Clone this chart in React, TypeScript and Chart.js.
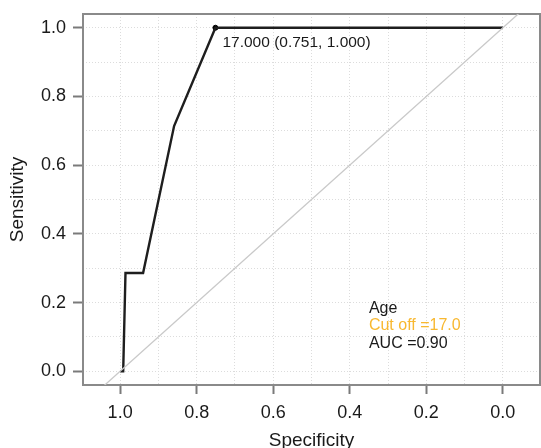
import React, { useEffect, useRef } from "react";
import { Chart, registerables } from "chart.js";

Chart.register(...registerables);

// ROC curve (specificity reversed on x)
const SPECIFICITY = [1.0, 0.992, 0.986, 0.94, 0.859, 0.751, 0.0];
const SENSITIVITY = [0.0, 0.0, 0.286, 0.286, 0.714, 1.0, 1.0];

// Chance diagonal (clipped to plot area)
const DIAG_X = [1.2, -0.2];
const DIAG_Y = [-0.2, 1.2];

// Optimal cut-off point
const CUT_SPEC = 0.751;
const CUT_SENS = 1.0;
const CUT_LABEL = "17.000 (0.751, 1.000)";

const GRID_VALUES = [0, 0.1, 0.2, 0.3, 0.4, 0.5, 0.6, 0.7, 0.8, 0.9, 1.0];
const LABELED_VALUES = [0, 0.2, 0.4, 0.6, 0.8, 1.0];
const TICK_LABELS = ["0.0", "0.2", "0.4", "0.6", "0.8", "1.0"];

const LEGEND_LINES = ["Age", "Cut off =17.0", "AUC =0.90"];
const LEGEND_COLORS = ["#1a1a1a", "#F8B830", "#1a1a1a"];
const LEGEND_ANCHOR = { x: 0.35, y: 0.183 };

const X_MIN = -0.097;
const X_MAX = 1.097;
const Y_MIN = -0.04;
const Y_MAX = 1.04;

const FONT = "'Liberation Sans', Arial, Helvetica, sans-serif";

const labelFor = (v: number) => {
  const i = LABELED_VALUES.findIndex((l) => Math.abs(l - v) < 1e-6);
  return i >= 0 ? TICK_LABELS[i] : "";
};

export default function App() {
  const ref = useRef<HTMLCanvasElement | null>(null);

  useEffect(() => {
    if (!ref.current) return;

    const decor = {
      id: "decor",
      beforeDatasetsDraw(chart: any) {
        const { ctx, chartArea } = chart;
        ctx.save();
        ctx.strokeStyle = "#8a8a8a";
        ctx.lineWidth = 2;
        ctx.strokeRect(
          chartArea.left,
          chartArea.top,
          chartArea.right - chartArea.left,
          chartArea.bottom - chartArea.top
        );
        ctx.restore();
      },
      afterDatasetsDraw(chart: any) {
        const { ctx, scales } = chart;
        const xs = scales.x;
        const ys = scales.y;
        ctx.save();
        ctx.textBaseline = "middle";
        ctx.textAlign = "left";
        ctx.fillStyle = "#1a1a1a";
        ctx.font = `15.5px ${FONT}`;
        const px = xs.getPixelForValue(CUT_SPEC);
        const py = ys.getPixelForValue(CUT_SENS);
        ctx.fillText(CUT_LABEL, px + 7, py + 15);

        ctx.font = `16px ${FONT}`;
        const lx = xs.getPixelForValue(LEGEND_ANCHOR.x);
        const ly = ys.getPixelForValue(LEGEND_ANCHOR.y);
        LEGEND_LINES.forEach((t, i) => {
          ctx.fillStyle = LEGEND_COLORS[i];
          ctx.fillText(t, lx, ly + i * 17.5);
        });
        ctx.restore();
      },
    };

    const chart = new Chart(ref.current, {
      type: "scatter",
      data: {
        datasets: [
          {
            data: DIAG_X.map((x, i) => ({ x, y: DIAG_Y[i] })),
            showLine: true,
            borderColor: "#c9c9c9",
            borderWidth: 1.3,
            pointRadius: 0,
          },
          {
            data: SPECIFICITY.map((x, i) => ({ x, y: SENSITIVITY[i] })),
            showLine: true,
            borderColor: "#1e1e1e",
            borderWidth: 2.4,
            pointRadius: 0,
            tension: 0,
          },
          {
            data: [{ x: CUT_SPEC, y: CUT_SENS }],
            showLine: false,
            backgroundColor: "#000",
            borderColor: "#000",
            pointRadius: 2.5,
          },
        ],
      },
      options: {
        animation: false,
        responsive: true,
        maintainAspectRatio: false,
        layout: { autoPadding: false, padding: { top: 14, right: 1, left: 0, bottom: 0 } },
        plugins: {
          legend: { display: false },
          tooltip: { enabled: false },
        },
        scales: {
          x: {
            type: "linear",
            reverse: true,
            min: X_MIN,
            max: X_MAX,
            afterBuildTicks: (s: any) => {
              s.ticks = GRID_VALUES.map((v) => ({ value: v }));
            },
            afterFit: (s: any) => {
              s.height = 63;
              s.paddingLeft = 0;
              s.paddingRight = 0;
              s.paddingTop = 0;
              s.paddingBottom = 0;
            },
            ticks: {
              autoSkip: false,
              maxRotation: 0,
              padding: 8.5,
              color: "#1a1a1a",
              font: { family: FONT, size: 18 },
              callback: (v: any) => labelFor(Number(v)),
            },
            grid: {
              color: "#dcdcdc",
              lineWidth: 1,
              tickLength: 9,
              tickWidth: 2,
              tickColor: (c: any) =>
                c.tick && labelFor(c.tick.value) !== "" ? "#7a7a7a" : "rgba(0,0,0,0)",
              tickBorderDash: [],
            },
            border: { display: false, dash: [1, 2] },
            title: {
              display: true,
              text: "Specificity",
              color: "#1a1a1a",
              font: { family: FONT, size: 19 },
              padding: { top: 0, bottom: -4 },
            },
          },
          y: {
            type: "linear",
            min: Y_MIN,
            max: Y_MAX,
            afterBuildTicks: (s: any) => {
              s.ticks = GRID_VALUES.map((v) => ({ value: v }));
            },
            afterFit: (s: any) => {
              s.width = 83;
              s.paddingLeft = 0;
              s.paddingRight = 0;
              s.paddingTop = 0;
              s.paddingBottom = 0;
            },
            ticks: {
              autoSkip: false,
              padding: 7,
              color: "#1a1a1a",
              font: { family: FONT, size: 18 },
              callback: (v: any) => labelFor(Number(v)),
            },
            grid: {
              color: "#dcdcdc",
              lineWidth: 1,
              tickLength: 10,
              tickWidth: 2,
              tickColor: (c: any) =>
                c.tick && labelFor(c.tick.value) !== "" ? "#7a7a7a" : "rgba(0,0,0,0)",
              tickBorderDash: [],
            },
            border: { display: false, dash: [1, 2] },
            title: {
              display: true,
              text: "Sensitivity",
              color: "#1a1a1a",
              font: { family: FONT, size: 19 },
              padding: { top: 6, bottom: 0 },
            },
          },
        },
      },
      plugins: [decor],
    } as any);

    return () => chart.destroy();
  }, []);

  return (
    <div
      style={{
        position: "fixed",
        left: 0,
        top: 0,
        width: 541,
        height: 448,
        background: "#fff",
      }}
    >
      <canvas ref={ref} />
    </div>
  );
}
